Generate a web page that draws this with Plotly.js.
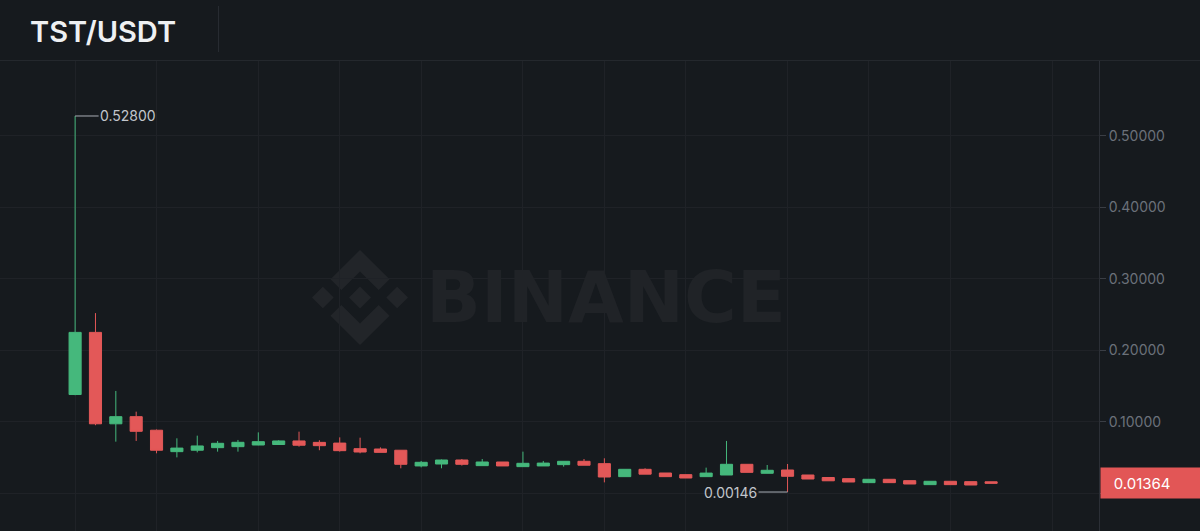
<!DOCTYPE html>
<html>
<head>
<meta charset="utf-8">
<script src="https://cdn.plot.ly/plotly-3.0.1.min.js"></script>
<style>
html,body{margin:0;padding:0;background:#161a1e;}
#chart{width:1200px;height:531px;}
</style>
</head>
<body>
<div id="chart"></div>
<script>
// Weekly candles, index 0 = first week
const weekIndex = [0,1,2,3,4,5,6,7,8,9,10,11,12,13,14,15,16,17,18,19,20,21,22,23,24,25,26,27,28,29,30,31,32,33,34,35,36,37,38,39,40,41,42,43,44,45];
const openVals  = [0.138,0.225,0.097,0.107,0.088,0.058,0.060,0.0636,0.065,0.0673,0.068,0.073,0.071,0.070,0.0622,0.0617,0.060,0.038,0.0407,0.0463,0.0384,0.0435,0.037,0.038,0.0398,0.0445,0.0412,0.023,0.0333,0.0281,0.0258,0.023,0.0253,0.0403,0.0277,0.0323,0.0253,0.0218,0.0202,0.0146,0.0193,0.0174,0.0118,0.0165,0.0160,0.0158];
const highVals  = [0.528,0.252,0.143,0.114,0.089,0.0767,0.0804,0.073,0.0744,0.085,0.074,0.086,0.074,0.078,0.0776,0.064,0.060,0.045,0.047,0.0477,0.0477,0.0435,0.058,0.045,0.0445,0.0477,0.0487,0.0333,0.0347,0.0281,0.0258,0.0356,0.073,0.0403,0.0393,0.0407,0.0253,0.0218,0.0202,0.0193,0.0193,0.0174,0.0165,0.0165,0.0160,0.0158];
const lowVals   = [0.137,0.095,0.072,0.073,0.0557,0.050,0.057,0.058,0.058,0.067,0.068,0.065,0.060,0.058,0.0557,0.057,0.0347,0.036,0.0347,0.0385,0.038,0.038,0.037,0.038,0.037,0.039,0.015,0.023,0.0265,0.023,0.0211,0.023,0.0253,0.029,0.0277,0.00146,0.0197,0.0172,0.0155,0.0146,0.0146,0.0127,0.0118,0.0118,0.0113,0.01364];
const closeVals = [0.225,0.097,0.107,0.0865,0.060,0.063,0.066,0.0697,0.0711,0.072,0.073,0.067,0.0664,0.0594,0.0575,0.057,0.0403,0.0431,0.0463,0.0403,0.0435,0.038,0.0417,0.042,0.0445,0.039,0.0225,0.0333,0.0265,0.023,0.0211,0.028,0.0403,0.029,0.0319,0.0235,0.0197,0.0172,0.0155,0.0193,0.0146,0.0127,0.0165,0.0118,0.0113,0.01364];

// Month-start bars (vertical grid)
const monthStartIdx = [0,4,9,13,17,22,26,30,35,39,43,48];
// Price axis (0.00000 label sits under the last-price tag)
const priceTicks = [0,0.1,0.2,0.3,0.4,0.5];
const priceTickText = ['','0.10000','0.20000','0.30000','0.40000','0.50000'];
const pairName = 'TST/USDT';
const lastPrice = 0.01364;
const maxPrice = 0.528, maxIdx = 0;
const minPrice = 0.00146, minIdx = 35;

const UP = '#45b87c', DOWN = '#e35858';
const BG = '#161a1e', GRID = '#1f2227';

const logoSvg = '<svg xmlns="http://www.w3.org/2000/svg" viewBox="0 0 126.61 126.61"><path fill="#222529" d="M38.73 53.2l24.59-24.58 24.6 24.6 14.3-14.31L63.32 0 24.43 38.9l14.3 14.3zM0 63.31l14.3-14.31 14.31 14.31-14.31 14.3zM38.73 73.41l24.59 24.59 24.6-24.6 14.31 14.29-38.9 38.91-38.91-38.88-.02-.02zM98 63.31l14.3-14.31 14.31 14.3-14.31 14.32zM77.83 63.3L63.32 48.78 52.59 59.51l-1.24 1.23-2.54 2.54-.02.02.02.03 14.51 14.5 14.51-14.52.01-.01z"/></svg>';
const logoUri = 'data:image/svg+xml;base64,' + btoa(logoSvg);

const W = 1200, H = 531, ML = 0, MR = 101, MT = 61, MB = 0;
const PW = W - ML - MR, PH = H - MT - MB;
const px2paperX = p => (p - ML) / PW;
const px2paperY = p => (H - MB - p) / PH;

const trace = {
  type: 'candlestick',
  x: weekIndex, open: openVals, high: highVals, low: lowVals, close: closeVals,
  increasing: {line: {color: UP, width: 1}, fillcolor: UP},
  decreasing: {line: {color: DOWN, width: 1}, fillcolor: DOWN},
  whiskerwidth: 0,
  hoverinfo: 'skip'
};

const layout = {
  width: W, height: H,
  margin: {l: ML, r: MR, t: MT, b: MB},
  paper_bgcolor: BG, plot_bgcolor: BG,
  showlegend: false,
  boxgap: 0.15,
  font: {family: 'Inter, "Noto Sans", sans-serif', color: '#6b717a', size: 14},
  title: {
    text: pairName, xref: 'container', yref: 'container',
    x: 30 / W, xanchor: 'left', y: 1 - 32 / H, yanchor: 'middle',
    font: {family: 'Inter, sans-serif', size: 29, color: '#eef0f2', weight: 600}
  },
  xaxis: {
    range: [-3.69, 50.3], fixedrange: true,
    tickmode: 'array', tickvals: monthStartIdx, showticklabels: false,
    showgrid: true, gridcolor: GRID, gridwidth: 1, zeroline: false, ticks: '',
    rangeslider: {visible: false}, showline: false
  },
  yaxis: {
    side: 'right', range: [-0.0531, 0.605], fixedrange: true,
    tickmode: 'array', tickvals: priceTicks, ticktext: priceTickText,
    showgrid: true, gridcolor: GRID, gridwidth: 1, zeroline: false,
    ticks: 'outside', ticklen: 6, tickcolor: '#3a3e45', tickwidth: 1,
    showline: true, linecolor: '#2b2f36', linewidth: 1,
    tickfont: {size: 14, color: '#6b717a'}
  },
  shapes: [
    {type: 'line', xref: 'paper', yref: 'paper', x0: px2paperX(0), x1: px2paperX(W), y0: px2paperY(60.5), y1: px2paperY(60.5), line: {color: '#24282d', width: 1}},
    {type: 'line', xref: 'paper', yref: 'paper', x0: px2paperX(218.5), x1: px2paperX(218.5), y0: px2paperY(6), y1: px2paperY(52), line: {color: '#272b31', width: 1}}
  ],
  images: [
    {source: logoUri, xref: 'paper', yref: 'paper', x: px2paperX(312), y: px2paperY(250), sizex: 96 / PW, sizey: 95 / PH, sizing: 'stretch', xanchor: 'left', yanchor: 'top', layer: 'below'}
  ],
  annotations: [
    {xref: 'paper', yref: 'paper', x: px2paperX(606), y: px2paperY(297), text: '<b>BINANCE</b>', showarrow: false,
     font: {family: '"DejaVu Sans", sans-serif', size: 72, color: '#202327'}, xanchor: 'center', yanchor: 'middle'},
    {x: maxIdx, y: maxPrice, xref: 'x', yref: 'y', text: maxPrice.toFixed(5), showarrow: true, arrowhead: 0, arrowwidth: 1,
     arrowcolor: '#a9aeb6', ax: 53, ay: 0, standoff: 0, font: {size: 14, color: '#c2c6cc'}},
    {x: minIdx, y: minPrice, xref: 'x', yref: 'y', text: minPrice.toFixed(5), showarrow: true, arrowhead: 0, arrowwidth: 1,
     arrowcolor: '#a9aeb6', ax: -57, ay: 0, standoff: 0, font: {size: 14, color: '#c2c6cc'}},
    {xref: 'paper', yref: 'y', x: 1, y: lastPrice, xanchor: 'left', yanchor: 'middle', xshift: 1,
     text: '\u00a0\u00a0\u00a0' + lastPrice.toFixed(5), showarrow: false, bgcolor: '#e25656', width: 100, height: 30, align: 'left',
     borderpad: 0, font: {size: 15, color: '#ffffff'}}
  ]
};

Plotly.newPlot('chart', [trace], layout, {displayModeBar: false, staticPlot: true});
</script>
</body>
</html>
